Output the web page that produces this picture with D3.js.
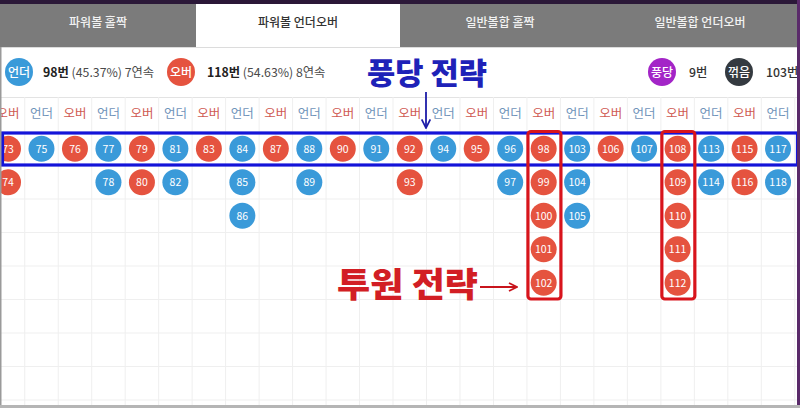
<!DOCTYPE html>
<html><head><meta charset="utf-8">
<script src="https://cdn.jsdelivr.net/npm/d3@7"></script>
<style>
html,body{margin:0;padding:0;background:#fff;overflow:hidden;}
svg{display:block;font-family:"Noto Sans CJK KR","Noto Sans",sans-serif;}
</style></head>
<body><svg id="c" width="800" height="408"></svg>
<script>
// ---- data ----
const tabs = ["파워볼 홀짝", "파워볼 언더오버", "일반볼합 홀짝", "일반볼합 언더오버"];
const activeTab = 1;
const headerLabels = ["오버","언더","오버","언더","오버","언더","오버","언더","오버","언더","오버","언더","오버","언더","오버","언더","오버","언더","오버","언더","오버","언더","오버","언더"];
const columnTypes = ["over","under","over","under","over","under","over","under","over","under","over","under","over","under","over","under","over","under","over","under","over","under","over","under"];
const columnValues = [
  [73,74],[75],[76],[77,78],[79,80],[81,82],[83],[84,85,86],[87],[88,89],[90],[91],
  [92,93],[94],[95],[96,97],[98,99,100,101,102],[103,104,105],[106],[107],
  [108,109,110,111,112],[113,114],[115,116],[117,118]
];
const underStats = {label:"언더", count:"98번", rest:" (45.37%) 7연속"};
const overStats = {label:"오버", count:"118번", rest:" (54.63%) 8연속"};
const pungdang = {label:"풍당", count:"9번"};
const kkeokeum = {label:"꺾음", count:"103번"};
const highlightRow = 0;
const highlightCols = [16, 20];
const highlightRowsTo = 4;
const titleTop = "풍당 전략";
const titleBottom = "투원 전략";
const nRows = 8;

const C = {over:"#e5533f", under:"#3a9ad9"};
const svg = d3.select("#c");

// tabs
const tabX = d3.scaleBand().domain(d3.range(tabs.length)).range([0,800]);
svg.append("rect").attr("x",0).attr("y",0).attr("width",800).attr("height",4).attr("fill","#2b1838");
tabs.forEach((t,i)=>{
  const w = tabX.bandwidth();
  const x0 = i===1 ? 196 : tabX(i);
  const x1 = i===0 ? 196 : tabX(i)+w;
  svg.append("rect").attr("x",x0).attr("y",4).attr("width",x1-x0).attr("height",43)
    .attr("fill", i===activeTab ? "#ffffff" : "#7b7b7b");
  svg.append("text").attr("x",(x0+x1)/2).attr("y",27).attr("text-anchor","middle")
    .attr("font-size",12).attr("font-weight",500)
    .attr("fill", i===activeTab ? "#333" : "#f2f2f2").text(t);
});
svg.append("line").attr("x1",0).attr("x2",800).attr("y1",47.5).attr("y2",47.5).attr("stroke","#dcdcdc");

// stats row
function badge(cx, fill, label){
  svg.append("circle").attr("cx",cx).attr("cy",72).attr("r",14).attr("fill",fill);
  svg.append("text").attr("x",cx).attr("y",76.5).attr("text-anchor","middle").attr("font-size",12)
    .attr("font-weight",500).attr("fill","#fff").text(label);
}
badge(19, C.under, underStats.label);
let t1 = svg.append("text").attr("x",43).attr("y",76.5).attr("font-size",12.3).attr("fill","#4a4a4a");
t1.append("tspan").attr("font-weight",700).attr("fill","#222").text(underStats.count);
t1.append("tspan").text(underStats.rest);
badge(181, C.over, overStats.label);
let t2 = svg.append("text").attr("x",207).attr("y",76.5).attr("font-size",12.3).attr("fill","#4a4a4a");
t2.append("tspan").attr("font-weight",700).attr("fill","#222").text(overStats.count);
t2.append("tspan").text(overStats.rest);
badge(662, "#a325c7", pungdang.label);
svg.append("text").attr("x",689).attr("y",76.5).attr("font-size",12.3).attr("font-weight",500).attr("fill","#333").text(pungdang.count);
badge(739, "#343a40", kkeokeum.label);
svg.append("text").attr("x",766).attr("y",76.5).attr("font-size",12.3).attr("font-weight",500).attr("fill","#333").text(kkeokeum.count);

// scales
const x = d3.scaleBand().domain(d3.range(columnValues.length)).range([-8.74, -8.74 + 33.48*columnValues.length]);
const y = d3.scaleBand().domain(d3.range(nRows)).range([132, 132 + 33.5*nRows]);
const headerY0 = 97;

// grid
const g = svg.append("g");
g.append("line").attr("x1",0).attr("x2",800).attr("y1",headerY0+0.5).attr("y2",headerY0+0.5).attr("stroke","#e3e3e3");
x.domain().forEach(i=>{
  const xb = x(i)+x.bandwidth();
  g.append("line").attr("x1",xb).attr("x2",xb).attr("y1",headerY0).attr("y2",405).attr("stroke","#efefef");
});
d3.range(nRows+1).forEach(r=>{
  const yy = r<nRows ? y(r) : y(nRows-1)+y.bandwidth();
  g.append("line").attr("x1",0).attr("x2",800).attr("y1",yy).attr("y2",yy).attr("stroke","#efefef");
});

// header labels
svg.selectAll("text.hd").data(headerLabels).join("text").attr("class","hd")
  .attr("x",(d,i)=>x(i)+x.bandwidth()/2).attr("y",118).attr("text-anchor","middle")
  .attr("font-size",12.5).attr("fill",(d,i)=>columnTypes[i]==="over"?"#cf5a52":"#6f93ba").text(d=>d);

// beads
const beads = [];
columnValues.forEach((col,i)=>col.forEach((v,r)=>beads.push({i,r,v,type:columnTypes[i]})));
const bg = svg.selectAll("g.bead").data(beads).join("g").attr("class","bead")
  .attr("transform",d=>`translate(${x(d.i)+x.bandwidth()/2},${y(d.r)+y.bandwidth()/2})`);
bg.append("circle").attr("r",13).attr("fill",d=>C[d.type]);
bg.append("text").attr("y",3.8).attr("text-anchor","middle").attr("font-size",10.5)
  .attr("fill","#fff").text(d=>d.v);

// blue highlight row
svg.append("rect").attr("x",2.5).attr("y",y(highlightRow)+1).attr("width",795).attr("height",y.bandwidth()-1.5)
  .attr("fill","none").attr("stroke","#1414d9").attr("stroke-width",3.2);

// red highlight columns
highlightCols.forEach(ci=>{
  svg.append("rect").attr("x",x(ci)+1).attr("y",y(highlightRow)-0.5)
    .attr("width",x.bandwidth()-0.5).attr("height",y(highlightRowsTo)+y.bandwidth()-y(highlightRow))
    .attr("rx",3).attr("fill","none").attr("stroke","#d8141c").attr("stroke-width",3.2);
});

// annotations
const defs = svg.append("defs");
defs.append("marker").attr("id","ab").attr("viewBox","0 0 10 10").attr("refX",9).attr("refY",5)
  .attr("markerWidth",6).attr("markerHeight",6).attr("orient","auto-start-reverse")
  .append("path").attr("d","M1,1 L9,5 L1,9").attr("fill","none").attr("stroke","#1c1ca8").attr("stroke-width",1.6);
defs.append("marker").attr("id","ar").attr("viewBox","0 0 10 10").attr("refX",9).attr("refY",5)
  .attr("markerWidth",5).attr("markerHeight",5).attr("orient","auto-start-reverse")
  .append("path").attr("d","M1,1 L9,5 L1,9").attr("fill","none").attr("stroke","#c8141c").attr("stroke-width",1.8);

svg.append("text").attr("x",367).attr("y",84).attr("font-size",30)
  .attr("textLength",120).attr("lengthAdjust","spacingAndGlyphs")
  .attr("font-weight",900).attr("fill","#1e22b8").text(titleTop);
svg.append("line").attr("x1",426).attr("x2",426).attr("y1",92).attr("y2",128)
  .attr("stroke","#1c1ca8").attr("stroke-width",1.8).attr("marker-end","url(#ab)");

svg.append("text").attr("x",337).attr("y",297).attr("font-size",34)
  .attr("textLength",141).attr("lengthAdjust","spacingAndGlyphs")
  .attr("font-weight",900).attr("fill","#d21e24").text(titleBottom);
svg.append("line").attr("x1",480).attr("x2",517).attr("y1",287).attr("y2",287)
  .attr("stroke","#c8141c").attr("stroke-width",2).attr("marker-end","url(#ar)");

// frame edges
svg.append("rect").attr("x",0).attr("y",47).attr("width",1.5).attr("height",361).attr("fill","#9a9a9a");
svg.append("rect").attr("x",797).attr("y",0).attr("width",3).attr("height",408).attr("fill","#5a2a6a");
svg.append("rect").attr("x",0).attr("y",405).attr("width",800).attr("height",3).attr("fill","#b5b5b5");
</script></body></html>
